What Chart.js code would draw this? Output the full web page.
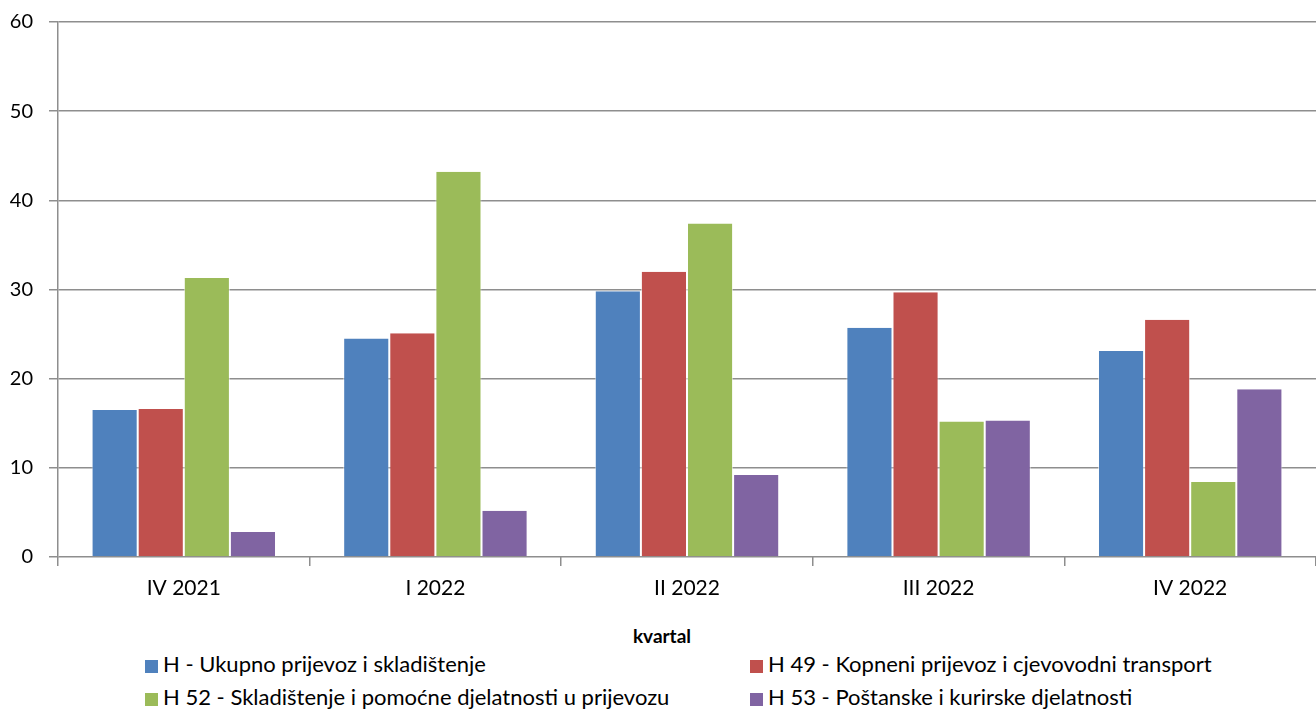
<!DOCTYPE html>
<html>
<head>
<meta charset="utf-8">
<script src="https://cdn.jsdelivr.net/npm/chart.js@4"></script>
<style>
    body { margin: 0; background: #fff; font-family: Lato, "Liberation Sans", sans-serif; overflow: hidden; }
    #wrap { position: relative; width: 1316px; height: 711px; overflow: hidden; }
    #box { position: absolute; left: 0; top: -6px; width: 1316px; height: 616px; }
    #xtitle { position: absolute; left: 4px; width: 1316px; top: 623px; text-align: center; font-size: 19px; font-weight: bold; color: #000; line-height: 26px; }
    #legend { position: absolute; left: 145px; top: 651px; width: 1171px; }
    .item { position: absolute; font-size: 22px; color: #000; white-space: nowrap; line-height: 26px; }
    .item span { display: inline-block; width: 13px; height: 13px; margin-right: 5px; vertical-align: -1px; }
</style>
</head>
<body>
<div id="wrap">
    <div id="box"><canvas id="chart"></canvas></div>
    <div id="xtitle">kvartal</div>
    <div id="legend"></div>
</div>
<script>
const quarters = ['IV 2021', 'I 2022', 'II 2022', 'III 2022', 'IV 2022'];
const seriesNames = [
    'H - Ukupno prijevoz i skladištenje',
    'H 49 - Kopneni prijevoz i cjevovodni transport',
    'H 52 - Skladištenje i pomoćne djelatnosti u prijevozu',
    'H 53 - Poštanske i kurirske djelatnosti'
];
const totalH = [16.5, 24.5, 29.8, 25.7, 23.1];
const h49 = [16.6, 25.1, 32.0, 29.7, 26.6];
const h52 = [31.3, 43.2, 37.4, 15.2, 8.4];
const h53 = [2.8, 5.2, 9.2, 15.3, 18.8];
const yTicks = [0, 10, 20, 30, 40, 50, 60];
const colors = ['#4F81BD', '#C0504D', '#9BBB59', '#8064A2'];

window.onload = () => {
    setUpChart();
}

const setUpChart = () => {
    const ctx = document.getElementById('chart');
    const values = [totalH, h49, h52, h53];

    new Chart(ctx, {
        type: 'bar',
        data: {
            labels: quarters,
            datasets: values.map((v, i) => ({
                label: seriesNames[i],
                data: v,
                backgroundColor: colors[i],
                borderColor: 'rgba(255,255,255,0.6)',
                borderWidth: { left: 1, right: 1, top: 0, bottom: 0 },
                categoryPercentage: 0.733,
                barPercentage: 1
            }))
        },
        options: {
            responsive: true,
            maintainAspectRatio: false,
            animation: false,
            layout: { padding: { top: 6, right: 0, left: 0, bottom: 0 } },
            plugins: {
                legend: { display: false },
                tooltip: { enabled: false }
            },
            scales: {
                x: {
                    afterFit: (axis) => {
                        axis.height = 53;
                    },
                    grid: {
                        drawOnChartArea: false,
                        drawTicks: true,
                        tickLength: 9,
                        color: '#8e8e8e',
                        lineWidth: 1.5
                    },
                    border: { display: false },
                    ticks: {
                        color: '#000',
                        padding: 10,
                        font: { size: 21, family: 'Lato' }
                    }
                },
                y: {
                    min: 0,
                    max: 60,
                    afterBuildTicks: (axis) => {
                        axis.ticks = yTicks.map(v => ({ value: v }));
                    },
                    afterFit: (axis) => {
                        axis.width = 58;
                    },
                    grid: {
                        color: '#8e8e8e',
                        lineWidth: 1.5,
                        tickLength: 9
                    },
                    border: { color: '#8e8e8e', width: 1.5 },
                    ticks: {
                        color: '#000',
                        padding: 16,
                        font: { size: 20, family: 'Lato' }
                    }
                }
            }
        }
    });

    // legend laid out in two columns like the original
    const legend = document.getElementById('legend');
    seriesNames.forEach((name, i) => {
        const item = document.createElement('div');
        item.className = 'item';
        item.style.left = (i % 2 === 0 ? 0 : 605) + 'px';
        item.style.top = (Math.floor(i / 2) * 33) + 'px';
        item.innerHTML = '<span style="background:' + colors[i] + '"></span>' + name;
        legend.appendChild(item);
    });
}
</script>
</body>
</html>
